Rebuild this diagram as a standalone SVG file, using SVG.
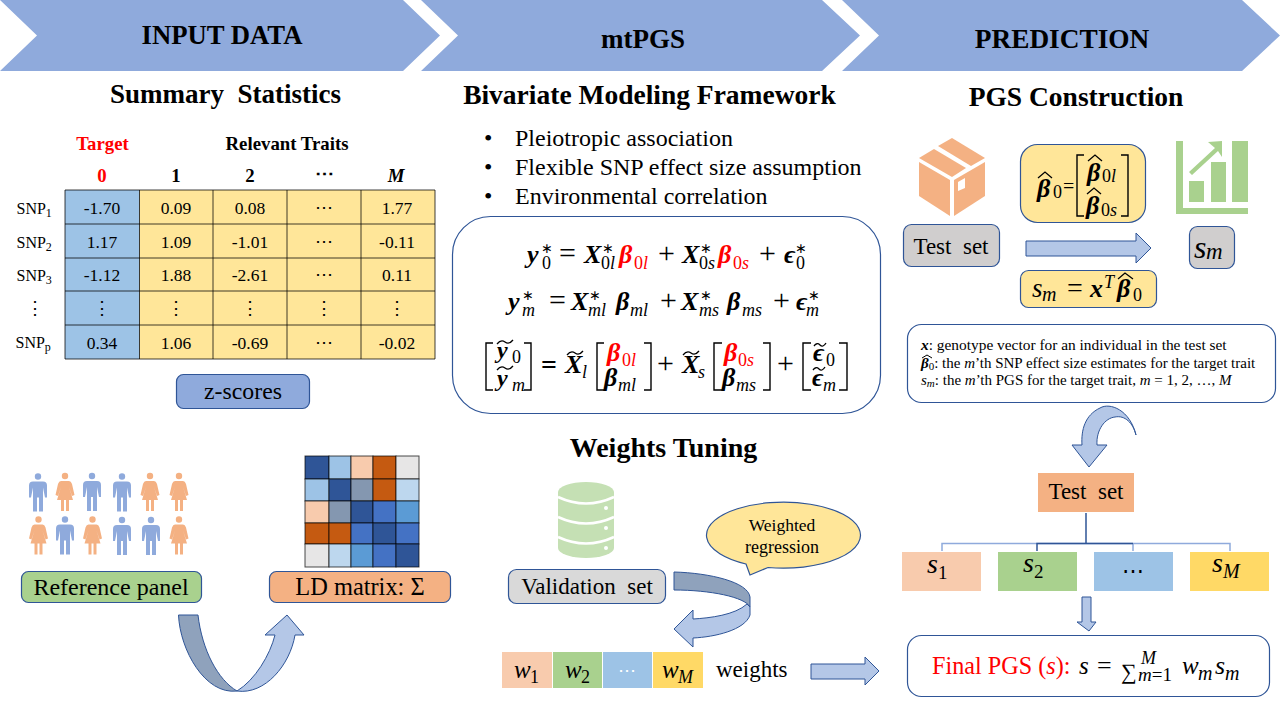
<svg xmlns="http://www.w3.org/2000/svg" width="1280" height="720" viewBox="0 0 1280 720">
<style>
text{font-family:"Liberation Serif","Times New Roman",serif;fill:#000}
.h{font-size:27.500px;font-weight:bold;text-anchor:middle}
.c{text-anchor:middle}
.b{stroke:#2f5597;stroke-width:1.2}
.tb{font-size:17.500px;text-anchor:middle}
.th{font-size:18.800px;font-weight:bold;text-anchor:middle}
.l{font-size:24px;text-anchor:middle}
.bl{font-size:24px}
.m{font-size:26px;font-style:italic;font-weight:bold}
.s{font-size:18px;font-style:italic}
.n{font-size:18px}
.st{font-size:14px}
.o{font-size:30px}
.v{font-size:25px;font-style:italic}
.r{fill:#f00}
.br{fill:none;stroke:#000;stroke-width:1.4}
.ht{fill:none;stroke:#000;stroke-width:1.3}
.g{stroke:#000;stroke-width:1;opacity:.75}
.ar{fill:#b4c7e7;stroke:#2f5597;stroke-width:1}
.ad{fill:#8fa2bc;stroke:#2f5597;stroke-width:1}
.nt{font-size:15px}
</style>
<defs>
<path id="man" fill="#8faadc" d="M-5,5H5Q9,5 9,9L9,21H7L5,11V35H1V21H-1V35H-5V11L-7,21H-9V9Q-9,5 -5,5ZM3.200,0A3.200,3.200 0 1 1 -3.200,0A3.200,3.200 0 1 1 3.200,0Z"/>
<path id="woman" fill="#f4b183" d="M-4,5H4Q6,5 7,8L9.500,19L7,20L4,11L8,24H4V35H1V24H-1V35H-4V24H-8L-4,11L-7,20L-9.500,19L-7,8Q-6,5 -4,5ZM3.200,0A3.200,3.200 0 1 1 -3.200,0A3.200,3.200 0 1 1 3.200,0Z"/>
</defs>
<rect width="1280" height="720" fill="#fff"/>

<g id="banner-input"><polygon points="0,0 403,0 440,35.500 403,71 0,71 37,35.500" fill="#8faadc"/><text class="h" style="font-size:26.700px" x="222" y="44">INPUT DATA</text></g>
<g id="banner-mtpgs"><polygon points="421,0 822,0 860,35.500 822,71 421,71 458,35.500" fill="#8faadc"/><text class="h" style="font-size:27px" x="643" y="48">mtPGS</text></g>
<g id="banner-prediction"><polygon points="842,0 1242,0 1280,35.500 1242,71 842,71 879,35.500" fill="#8faadc"/><text class="h" style="font-size:27.300px" x="1062" y="48">PREDICTION</text></g>

<text class="h" style="font-size:27px" x="225.500" y="103" xml:space="preserve">Summary  Statistics</text>
<text class="h" x="649.500" y="104">Bivariate Modeling Framework</text>
<text class="h" x="1076" y="106">PGS Construction</text>
<text class="h" style="font-size:28px" x="663.500" y="457">Weights Tuning</text>

<g id="table">
<rect x="65" y="190" width="74.500" height="169" fill="#9dc3e6"/>
<rect x="139.500" y="190" width="295.500" height="169" fill="#ffe699"/>
<g class="g">
<path d="M65,190H435M65,224H435M65,258H435M65,291H435M65,325H435M65,359H435M65,190V359M139.500,190V359M213,190V359M287,190V359M361,190V359M435,190V359" fill="none"/>
</g>
<text class="th r" x="102.500" y="150">Target</text>
<text class="th" x="287" y="150">Relevant Traits</text>
<text class="th r" x="102" y="182">0</text><text class="th" x="176" y="182">1</text><text class="th" x="250" y="182">2</text><text class="th" x="324" y="180">⋯</text><text class="th" x="396" y="182" font-style="italic">M</text>
<text class="tb" x="102" y="214">-1.70</text><text class="tb" x="176" y="214">0.09</text><text class="tb" x="250" y="214">0.08</text><text class="tb" x="324" y="213">⋯</text><text class="tb" x="397" y="214">1.77</text>
<text class="tb" x="102" y="248">1.17</text><text class="tb" x="176" y="248">1.09</text><text class="tb" x="250" y="248">-1.01</text><text class="tb" x="324" y="247">⋯</text><text class="tb" x="397" y="248">-0.11</text>
<text class="tb" x="102" y="281">-1.12</text><text class="tb" x="176" y="281">1.88</text><text class="tb" x="250" y="281">-2.61</text><text class="tb" x="324" y="280">⋯</text><text class="tb" x="397" y="281">0.11</text>
<text class="tb" x="35" y="314">⋮</text><text class="tb" x="102" y="314">⋮</text><text class="tb" x="176" y="314">⋮</text><text class="tb" x="250" y="314">⋮</text><text class="tb" x="324" y="314">⋮</text><text class="tb" x="397" y="314">⋮</text>
<text class="tb" x="102" y="349">0.34</text><text class="tb" x="176" y="349">1.06</text><text class="tb" x="250" y="349">-0.69</text><text class="tb" x="324" y="348">⋯</text><text class="tb" x="397" y="349">-0.02</text>
<text font-size="16" x="16.500" y="214">SNP<tspan font-size="12" dy="3">1</tspan></text>
<text font-size="16" x="16.500" y="248">SNP<tspan font-size="12" dy="3">2</tspan></text>
<text font-size="16" x="16.500" y="281">SNP<tspan font-size="12" dy="3">3</tspan></text>
<text font-size="16" x="15.500" y="348">SNP<tspan font-size="12" dy="3">p</tspan></text>
</g>
<g id="z-scores"><rect class="b" x="176.500" y="374.500" width="133" height="34" rx="7" fill="#8faadc"/><text class="c" font-size="23.800" x="243" y="399">z-scores</text></g>

<g id="people">
<use href="#man" x="38" y="476.500"/><use href="#woman" x="65" y="476"/><use href="#man" x="92" y="476"/><use href="#man" x="122" y="476.500"/><use href="#woman" x="150" y="476"/><use href="#woman" x="179" y="476"/>
<use href="#woman" x="38.500" y="519.500"/><use href="#man" x="65" y="519.500"/><use href="#woman" x="92.500" y="519.500"/><use href="#man" x="122" y="520"/><use href="#man" x="151" y="520"/><use href="#woman" x="179" y="519.500"/>
</g>
<g id="reference-panel"><rect class="b" x="21.500" y="571.500" width="180" height="31" rx="7" fill="#a9d18e"/><text class="l" x="111" y="594.500">Reference panel</text></g>

<g id="ld-heatmap" stroke="#000" stroke-opacity=".7" stroke-width="1">
<rect x="305" y="456" width="24" height="23" fill="#2f5597"/><rect x="329" y="456" width="22" height="23" fill="#9dc3e6"/><rect x="351" y="456" width="22" height="23" fill="#f8cbad"/><rect x="373" y="456" width="23" height="23" fill="#c55a11"/><rect x="396" y="456" width="23" height="23" fill="#e7e6e6"/>
<rect x="305" y="479" width="24" height="22" fill="#9dc3e6"/><rect x="329" y="479" width="22" height="22" fill="#2f5597"/><rect x="351" y="479" width="22" height="22" fill="#8497b0"/><rect x="373" y="479" width="23" height="22" fill="#c55a11"/><rect x="396" y="479" width="23" height="22" fill="#bdd7ee"/>
<rect x="305" y="501" width="24" height="22" fill="#f8cbad"/><rect x="329" y="501" width="22" height="22" fill="#8497b0"/><rect x="351" y="501" width="22" height="22" fill="#2f5597"/><rect x="373" y="501" width="23" height="22" fill="#4472c4"/><rect x="396" y="501" width="23" height="22" fill="#5b9bd5"/>
<rect x="305" y="523" width="24" height="21" fill="#c55a11"/><rect x="329" y="523" width="22" height="21" fill="#c55a11"/><rect x="351" y="523" width="22" height="21" fill="#4472c4"/><rect x="373" y="523" width="23" height="21" fill="#2f5597"/><rect x="396" y="523" width="23" height="21" fill="#4472c4"/>
<rect x="305" y="544" width="24" height="23" fill="#e7e6e6"/><rect x="329" y="544" width="22" height="23" fill="#bdd7ee"/><rect x="351" y="544" width="22" height="23" fill="#5b9bd5"/><rect x="373" y="544" width="23" height="23" fill="#4472c4"/><rect x="396" y="544" width="23" height="23" fill="#2f5597"/>
</g>
<g id="ld-matrix"><rect class="b" x="269.500" y="571.500" width="181" height="31" rx="7" fill="#f4b183"/><text class="l" style="font-size:24.400px" x="360" y="594.500">LD matrix: Σ</text></g>

<g id="bullets">
<text class="bl" x="484" y="146">•</text><text class="bl" x="515" y="146">Pleiotropic association</text>
<text class="bl" x="484" y="175">•</text><text class="bl" x="515" y="175">Flexible SNP effect size assumption</text>
<text class="bl" x="484" y="204">•</text><text class="bl" x="515" y="204">Environmental correlation</text>
</g>

<g id="equations">
<rect class="b" x="452.500" y="216.500" width="428" height="197" rx="38" fill="#fff"/>
<text class="m" x="527" y="263">y</text><text class="st" x="541" y="253">∗</text><text class="n" x="542" y="269">0</text>
<text class="o" x="559" y="263">=</text>
<text class="m" x="584" y="263">X</text><text class="st" x="602" y="253">∗</text><text class="n" x="601" y="269">0<tspan class="s">l</tspan></text>
<text class="m r" x="619" y="263">β</text><text class="n r" x="634" y="269">0<tspan class="s r">l</tspan></text>
<text class="o" x="658" y="263">+</text>
<text class="m" x="682" y="263">X</text><text class="st" x="700" y="253">∗</text><text class="n" x="699" y="269">0<tspan class="s">s</tspan></text>
<text class="m r" x="718" y="263">β</text><text class="n r" x="733" y="269">0<tspan class="s r">s</tspan></text>
<text class="o" x="759" y="263">+</text>
<text class="m" x="784" y="263">ϵ</text><text class="st" x="795" y="253">∗</text><text class="n" x="796" y="269">0</text>

<text class="m" x="508" y="310">y</text><text class="st" x="522" y="300">∗</text><text class="s" x="522" y="316">m</text>
<text class="o" x="549" y="310">=</text>
<text class="m" x="571" y="310">X</text><text class="st" x="589" y="300">∗</text><text class="s" x="588" y="316">ml</text>
<text class="m" x="616" y="310">β</text><text class="s" x="630" y="316">ml</text>
<text class="o" x="660" y="310">+</text>
<text class="m" x="681" y="310">X</text><text class="st" x="700" y="300">∗</text><text class="s" x="699" y="316">ms</text>
<text class="m" x="727" y="310">β</text><text class="s" x="742" y="316">ms</text>
<text class="o" x="773" y="310">+</text>
<text class="m" x="796" y="310">ϵ</text><text class="st" x="808" y="300">∗</text><text class="s" x="806" y="316">m</text>

<polyline class="br" points="493,343 486,343 486,390 493,390"/><polyline class="br" points="524,343 531,343 531,390 524,390"/>
<text class="m" style="font-size:24px" x="497" y="358">y</text><text class="n" x="512" y="363">0</text>
<text class="m" style="font-size:24px" x="497" y="386">y</text><text class="s" x="512" y="391">m</text>
<path class="ht" d="M497,344Q501,339 505,342T513,340M497,370Q501,365 505,368T513,366"/>
<text class="o" x="541" y="374" font-weight="bold" style="font-size:28px">=</text>
<text class="m" x="565" y="373">X</text><text class="s" x="582" y="378">l</text>
<path class="ht" d="M567,355Q571,350 575,353T583,351M683,355Q687,350 691,353T699,351"/>
<polyline class="br" points="604,343 597,343 597,390 604,390"/><polyline class="br" points="644,343 651,343 651,390 644,390"/>
<text class="m r" x="607" y="361">β</text><text class="n r" x="622" y="366">0<tspan class="s r">l</tspan></text>
<text class="m" x="604" y="386">β</text><text class="s" x="618" y="391">ml</text>
<text class="o" x="657" y="373">+</text>
<text class="m" x="682" y="373">X</text><text class="s" x="698" y="378">s</text>
<polyline class="br" points="722,343 714,343 714,390 722,390"/><polyline class="br" points="763,343 770,343 770,390 763,390"/>
<text class="m r" x="724" y="361">β</text><text class="n r" x="738" y="366">0<tspan class="s r">s</tspan></text>
<text class="m" x="722" y="386">β</text><text class="s" x="736" y="391">ms</text>
<text class="o" x="777" y="373">+</text>
<polyline class="br" points="811,343 803,343 803,390 811,390"/><polyline class="br" points="839,343 847,343 847,390 839,390"/>
<text class="m" x="813" y="361">ϵ</text><text class="n" x="826" y="366">0</text>
<text class="m" x="812" y="386">ϵ</text><text class="s" x="823" y="391">m</text>
<path class="ht" d="M814,346Q817,342 820,345T826,343M813,370Q816,366 819,369T825,367"/>
</g>

<g id="database-icon">
<path fill="#c5e0b4" d="M558,492A28,10 0 0 1 614,492V548A28,10 0 0 1 558,548Z"/>
<path fill="none" stroke="#fff" stroke-width="2.500" d="M558,497Q586,510 614,497M558,517Q586,530 614,517M558,537Q586,550 614,537"/>
<circle cx="606" cy="508" r="2" fill="#fff"/><circle cx="606" cy="528" r="2" fill="#fff"/><circle cx="606" cy="548" r="2" fill="#fff"/>
</g>
<g id="validation-set"><rect class="b" x="508.500" y="569.500" width="157" height="34" rx="8" fill="#d9d9d9"/><text class="c" font-size="23" x="587" y="594" xml:space="preserve">Validation  set</text></g>
<g id="weighted-regression"><path class="b" fill="#ffe699" d="M746,564A77,33 0 1 1 768,567.500L750,575Z"/><text class="c" font-size="17.500" x="782" y="531">Weighted</text><text class="c" font-size="18" x="782" y="553">regression</text></g>
<g id="weights-row">
<rect x="502" y="652" width="50" height="36" fill="#f8cbad"/><rect x="553" y="652" width="49" height="36" fill="#a9d18e"/><rect x="603" y="652" width="49" height="36" fill="#9dc3e6"/><rect x="653" y="652" width="50" height="36" fill="#ffd966"/>
<text class="v" x="514" y="678">w</text><text class="n" x="530" y="683">1</text>
<text class="v" x="565" y="678">w</text><text class="n" x="581" y="683">2</text>
<text class="c" font-size="18" x="627" y="676" style="fill:#fff">⋯</text>
<text class="v" x="662" y="678">w</text><text class="s" x="678" y="683">M</text>
<text x="716" y="677" font-size="23">weights</text>
</g>

<g id="test-set-icon" fill="#f4b183">
<polygon points="919,162 950,180 950,216 919,196"/><polygon points="954,180 985,162 985,196 954,216"/>
<polygon points="919,158 934,149 966,168 952,177"/><polygon points="938,146 952,138 985,158 971,166"/>
<polygon points="958,182 965,178 965,188 958,191" fill="#fff"/>
</g>
<g id="test-set"><rect class="b" x="903.500" y="224.500" width="96" height="42" rx="8" fill="#d0cece"/><text class="c" font-size="23" x="951" y="254" xml:space="preserve">Test  set</text></g>
<g id="beta-hat">
<rect class="b" x="1020.500" y="144.500" width="125" height="78" rx="17" fill="#ffe699"/>
<text class="m" x="1037" y="197">β</text><text class="n" x="1053" y="198">0</text><text font-size="20" x="1063" y="193">=</text>
<polyline class="br" points="1084,155 1077,155 1077,216 1084,216"/><polyline class="br" points="1121,155 1128,155 1128,216 1121,216"/>
<text class="m" x="1087" y="181">β</text><text class="n" x="1102" y="182">0<tspan class="s">l</tspan></text>
<text class="m" x="1086" y="214">β</text><text class="n" x="1101" y="216">0<tspan class="s">s</tspan></text>
<polyline class="ht" points="1038,178 1045,172 1052,178"/><polyline class="ht" points="1088,161 1095,155 1102,161"/><polyline class="ht" points="1087,194 1094,188 1101,194"/>
</g>
<g id="sm-formula">
<rect class="b" x="1020.500" y="270.500" width="136" height="37" rx="8" fill="#ffe699"/>
<text class="v" style="font-size:27px" x="1032" y="297">s</text><text class="s" style="font-size:20px" x="1042" y="301">m</text><text class="o" style="font-size:28px" x="1067" y="297">=</text>
<text class="m" x="1090" y="297">x</text><text class="s" x="1104" y="288">T</text><text class="m" x="1117" y="297">β</text><text class="n" x="1133" y="301">0</text>
<polyline class="ht" points="1118,279 1125,273 1133,279"/>
</g>
<g id="chart-icon" fill="#a9d18e">
<polygon points="1176,141 1183,141 1183,208 1248,208 1248,214 1176,214"/>
<rect x="1189" y="181" width="15" height="21"/><rect x="1211" y="162" width="15" height="40"/><rect x="1232" y="141" width="16" height="61"/>
<polygon points="1189,172 1215,148 1208,142 1222,141 1222,157 1218,151 1192,175"/>
</g>
<g id="sm-box"><rect class="b" x="1189.500" y="226.500" width="45" height="42" rx="8" fill="#d0cece"/><text font-size="32" font-style="italic" x="1194" y="258">s</text><text class="s" style="font-size:23px" x="1206" y="259">m</text></g>
<g id="notes">
<rect class="b" x="907.500" y="324.500" width="368" height="78" rx="14" fill="#fff"/>
<text class="nt" style="font-size:15.400px" x="921" y="350"><tspan font-weight="bold" font-style="italic">x</tspan>: genotype vector for an individual in the test set</text>
<text class="nt" x="921" y="368"><tspan font-weight="bold" font-style="italic">β</tspan><tspan font-size="11" dy="2">0</tspan><tspan dy="-2">: the </tspan><tspan font-style="italic">m</tspan>’th SNP effect size estimates for the target trait</text>
<polyline class="ht" style="stroke-width:1" points="922,358 927,355 932,358"/>
<text class="nt" x="921" y="385"><tspan font-style="italic">s</tspan><tspan font-size="11" font-style="italic" dy="2">m</tspan><tspan dy="-2">: the </tspan><tspan font-style="italic">m</tspan>’th PGS for the target trait, <tspan font-style="italic">m</tspan> = 1, 2, …, <tspan font-style="italic">M</tspan></text>
</g>
<g id="test-set-2"><rect x="1038" y="473" width="96" height="39" fill="#f4b183"/><text class="c" font-size="23" x="1086" y="499" xml:space="preserve">Test  set</text></g>
<g id="s1"><rect x="902" y="552" width="79" height="39" fill="#f8cbad"/><text class="v" x="927" y="573" style="font-size:28px">s</text><text class="n" x="938" y="579" style="font-size:19px">1</text></g>
<g id="s2"><rect x="998" y="552" width="79" height="39" fill="#a9d18e"/><text class="v" x="1023" y="572" style="font-size:28px">s</text><text class="n" x="1034" y="578" style="font-size:19px">2</text></g>
<g id="s-dots"><rect x="1094" y="552" width="79" height="39" fill="#9dc3e6"/><text class="c" font-size="22" x="1133" y="578">⋯</text></g>
<g id="sM"><rect x="1190" y="552" width="79" height="39" fill="#ffd966"/><text class="v" x="1212" y="572" style="font-size:28px">s</text><text class="s" x="1223" y="578" style="font-size:20px">M</text></g>
<g id="final-pgs">
<rect class="b" x="907.500" y="635.500" width="362" height="61" rx="14" fill="#fff"/>
<text class="r" font-size="24.200" x="932" y="674">Final PGS (<tspan class="r" font-style="italic">s</tspan>):</text>
<text class="v" x="1079" y="674">s</text><text class="o" style="font-size:26px" x="1097" y="674">=</text><text font-size="22" x="1121" y="679">∑</text>
<text class="s" x="1141" y="664">M</text><text class="s" style="font-size:19px" x="1138" y="681">m<tspan font-style="normal">=1</tspan></text>
<text class="v" x="1182" y="674">w</text><text class="s" style="font-size:20px" x="1198" y="680">m</text><text class="v" style="font-size:26px" x="1215" y="674">s</text><text class="s" style="font-size:20px" x="1225" y="680">m</text>
</g>

<g id="connectors">
<path class="ad" d="M178.500,615H198C202,650 218,680 237,691C205,695 180,650 178.500,615Z"/>
<path class="ar" d="M237,691C255,680 270,655 275,635H265L287,615L304,635H295C290,665 265,695 237,691Z"/>
<path class="ad" d="M674,572C710,573 748,582 750,597V607C745,597 710,590 674,590Z"/>
<path class="ar" d="M747,604L750,607V615C745,630 715,637 693,638V647L674,629L693,610V619C710,618 735,615 747,604Z"/>
<polygon class="ar" points="811,664 865,664 865,657 879,671 865,685 865,679 811,679"/>
<polygon class="ar" points="1026,241 1136,241 1136,233 1151,248 1136,263 1136,256 1026,256"/>
<path class="ar" d="M1136,435C1130,410 1110,402 1100,408C1085,415 1081,430 1082,445H1072L1089,467L1107,445H1097C1096,430 1105,418 1115,417C1125,415 1133,423 1136,435Z"/>
<path fill="none" stroke="#8faadc" stroke-width="1.500" d="M942,551V543.500H1230V551M1133,543.500V551"/>
<path fill="none" stroke="#2f5597" stroke-width="1.500" d="M1086,513V543.500M1037,551V543.500H1133"/>
<polygon class="ar" points="1082,597 1091,597 1091,622 1096,622 1089,631 1077,622 1082,622"/>
</g>
</svg>
